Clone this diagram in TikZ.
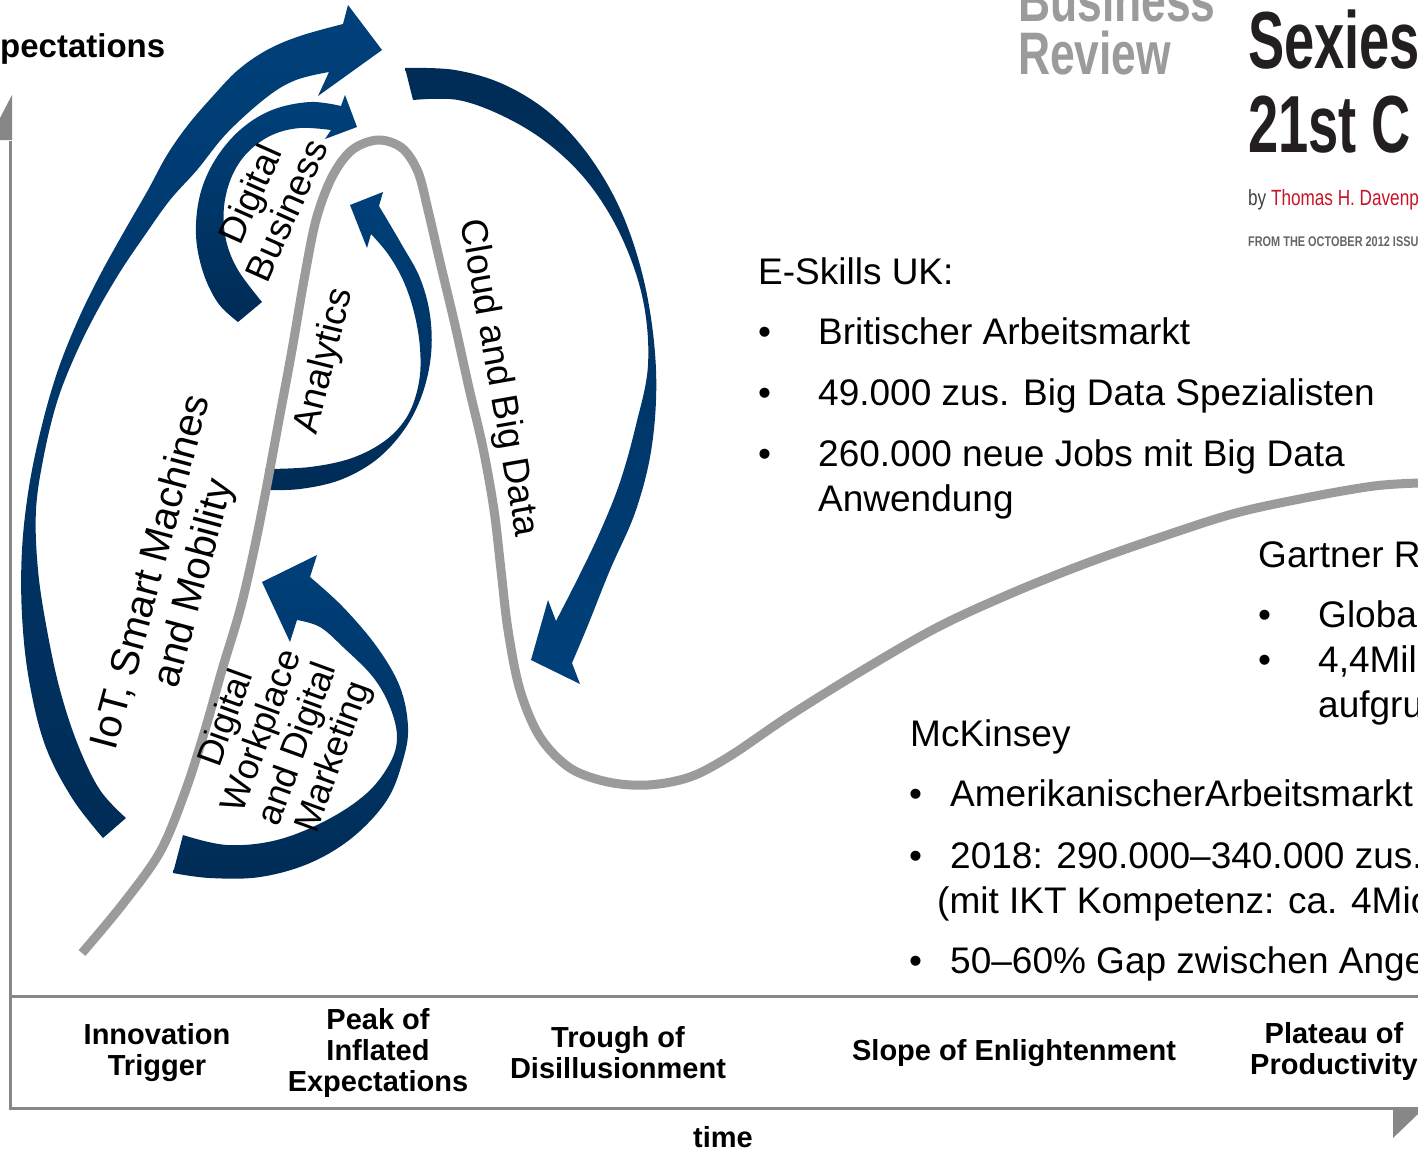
\documentclass[tikz,border=0pt]{standalone}
\usepackage{fontspec}
\setmainfont{Liberation Sans}
\definecolor{hype}{RGB}{155,155,155}
\definecolor{axisgray}{RGB}{135,135,135}
\definecolor{navylight}{RGB}{0,64,122}
\definecolor{navydark}{RGB}{0,44,86}
\definecolor{hbrgray}{RGB}{155,155,155}
\definecolor{hbrred}{RGB}{200,20,40}
\definecolor{hbrblack}{RGB}{35,31,32}
\begin{document}
\begin{tikzpicture}[x=1pt,y=-1pt,
  phase/.style={font=\bfseries\fontsize{29}{31}\selectfont, align=center, inner sep=0},
  body/.style={font=\fontsize{37}{45}\selectfont, inner sep=0, anchor=base west},
  curvelabel/.style={font=\fontsize{37}{40}\selectfont, align=center, inner sep=0},
  axisline/.style={draw=axisgray, line width=3pt},
  upshade/.style={top color=navylight, bottom color=navydark},
  downshade/.style={top color=navydark, bottom color=navylight},
  hypeline/.style={draw=hype, line width=9pt, line join=round}
]
\useasboundingbox (0,0) rectangle (1418,1152);
\fill[white] (0,0) rectangle (1418,1152);

% ---------- axes ----------
\draw[axisline] (10,141) -- (10,1108) -- (1395,1108);
\draw[axisline] (10,996) -- (1418,996);
\fill[axisgray] (0,118) -- (12,95) -- (12,140) -- (0,140) -- cycle;
\fill[axisgray] (1393,1107) -- (1418,1107) -- (1418,1114) -- (1393,1138) -- cycle;

% ---------- blue arrows ----------
% IoT, Smart Machines and Mobility
\shade[upshade]
  plot[smooth, tension=0.6] coordinates {(103,838) (72,798) (45,745) (29,680) (22,615) (22,550) (29,487) (42,425) (58,370) (78,320) (100,275) (125,230) (148,190) (167,155) (188,125) (213,96) (238,70) (267,50) (300,36) (343,24)}
  -- (348,5) -- (382,50) -- (318,96) --
  plot[smooth, tension=0.6] coordinates {(329,72) (296,80) (267,97) (227,133) (197,170) (170,200) (145,235) (120,272) (95,315) (74,358) (57,402) (44,455) (36,510) (38,570) (47,630) (60,690) (78,745) (100,790) (126,818)}
  -- cycle;
% Digital Business
\shade[upshade]
  plot[smooth, tension=0.6] coordinates {(238,322) (218,303) (203,272) (196,235) (200,195) (215,160) (240,130) (272,110) (310,102) (341,106)}
  -- (345,95) -- (357,127) -- (325,139) --
  plot[smooth, tension=0.6] coordinates {(331,130) (300,128) (272,135) (248,152) (232,176) (224,207) (226,240) (238,270) (262,302)}
  -- cycle;
% Analytics
\shade[upshade]
  plot[smooth, tension=0.6] coordinates {(265,490) (300,489) (340,480) (376,460) (404,430) (422,395) (431,355) (430,315) (420,278) (402,245) (379,206)}
  -- (383,192) -- (350,205) -- (367,248) --
  plot[smooth, tension=0.6] coordinates {(371,234) (388,254) (403,280) (414,312) (420,348) (419,382) (408,415) (386,440) (352,458) (310,467) (265,469)}
  -- cycle;
% Cloud and Big Data
\shade[downshade]
  plot[smooth, tension=0.6] coordinates {(405,68) (455,70) (505,85) (552,115) (592,160) (624,218) (646,290) (656,370) (652,445) (636,510) (610,570) (588,625) (572,663)}
  -- (580,684) -- (531,660) -- (548,600) --
  plot[smooth, tension=0.6] coordinates {(556,621) (578,578) (600,532) (620,482) (636,425) (648,365) (643,300) (622,238) (590,185) (550,145) (505,117) (458,100) (413,100)}
  -- cycle;
% Digital Workplace and Digital Marketing
\shade[upshade]
  plot[smooth, tension=0.6] coordinates {(173,873) (210,878) (260,877) (310,863) (353,837) (387,800) (403,760) (408,727) (400,687) (377,647) (343,607) (310,577)}
  -- (317,555) -- (262,582) -- (290,642) --
  plot[smooth, tension=0.6] coordinates {(297,620) (320,627) (343,647) (373,677) (390,707) (397,737) (390,763) (367,793) (327,820) (277,840) (227,845) (183,835)}
  -- cycle;

% ---------- hype curve ----------
\draw[hypeline] plot[smooth, tension=0.55] coordinates {(82,953) (122,905) (160,852) (185,792) (205,730) (222,670) (240,610) (254,550) (266,490) (279,420) (292,350) (304,280) (316,220) (332,177) (352,150) (378,140) (402,148) (418,172) (428,210) (440,262) (455,325) (469,388) (483,448) (494,510) (501,570) (508,630) (520,690) (540,737) (570,768) (608,782) (648,785) (690,777) (730,756) (789,716) (863,670) (938,627) (1012,593) (1087,563) (1161,537) (1236,513) (1310,497) (1374,486) (1418,483)};

% ---------- labels on the curve ----------
\node[curvelabel, font=\fontsize{40}{44}\selectfont, rotate=75] (iot) at (174,578) {IoT, Smart Machines\\and Mobility};
\node[curvelabel, rotate=66] (dbus) at (268,202) {Digital\\Business};
\node[curvelabel, rotate=76] (ana) at (325,361) {Analytics};
\node[curvelabel, rotate=-80] (cloud) at (498,378) {Cloud and Big Data};
\node[curvelabel, font=\fontsize{36}{38}\selectfont, rotate=70] (dwp) at (281,738) {Digital\\Workplace\\and Digital\\Marketing};

% ---------- axis labels ----------
\node[font=\bfseries\fontsize{33}{36}\selectfont, inner sep=0, anchor=base west] (ylab) at (0,57) {pectations};
\node[phase] (p1) at (157,1053) {Innovation\\Trigger};
\node[phase] (p2) at (378,1053) {Peak of\\Inflated\\Expectations};
\node[phase] (p3) at (618,1053) {Trough of\\Disillusionment};
\node[phase] (p4) at (1014,1053) {Slope of Enlightenment};
\node[phase, anchor=west] (p5) at (1250,1053) {\begin{tabular}{@{}c@{}}Plateau of\\Productivity\end{tabular}};
\node[font=\bfseries\fontsize{29}{31}\selectfont, inner sep=0, anchor=base] (xlab) at (723,1147) {time};

% ---------- HBR article ----------
\node[font=\bfseries\fontsize{60}{60}\selectfont, text=hbrgray, xscale=0.74, inner sep=0, anchor=base west] (hbr1) at (1018,21) {Business};
\node[font=\bfseries\fontsize{60}{60}\selectfont, text=hbrgray, xscale=0.74, inner sep=0, anchor=base west] (hbr2) at (1018,74) {Review};
\node[font=\bfseries\fontsize{81}{81}\selectfont, text=hbrblack, xscale=0.67, inner sep=0, anchor=base west] (t1) at (1248,68) {Sexies};
\node[font=\bfseries\fontsize{81}{81}\selectfont, text=hbrblack, xscale=0.67, inner sep=0, anchor=base west] (t2) at (1248,152) {21st C};
\node[font=\fontsize{22}{22}\selectfont, xscale=0.78, inner sep=0, anchor=base west] (auth) at (1248,205) {\textcolor{hbrblack!85}{by} \textcolor{hbrred}{Thomas H. Davenp}};
\node[font=\bfseries\fontsize{14}{14}\selectfont, text=black!60, xscale=0.78, inner sep=0, anchor=base west] (issue) at (1248,246) {FROM THE OCTOBER 2012 ISSU};

% ---------- E-Skills UK ----------
\node[body] (es0) at (758,284) {E-Skills UK:};
\node[body] (esb1) at (758,344) {•};
\node[body] (es1) at (818,344) {Britischer Arbeitsmarkt};
\node[body] (esb2) at (758,405) {•};
\node[body] (es2) at (818,405) {49.000 zus. Big Data Spezialisten};
\node[body] (esb3) at (758,466) {•};
\node[body] (es3) at (818,466) {260.000 neue Jobs mit Big Data};
\node[body] (es4) at (818,511) {Anwendung};

% ---------- Gartner ----------
\node[body] (ga0) at (1258,567) {Gartner R};
\node[body] (gab1) at (1258,627) {•};
\node[body] (ga1) at (1318,627) {Globa};
\node[body] (gab2) at (1258,672) {•};
\node[body] (ga2) at (1318,672) {4,4Mil};
\node[body] (ga3) at (1318,717) {aufgru};

% ---------- McKinsey ----------
\node[body] (mk0) at (910,746) {McKinsey};
\node[body] (mkb1) at (909,806) {•};
\node[body] (mk1) at (950,806) {AmerikanischerArbeitsmarkt};
\node[body] (mkb2) at (909,868) {•};
\node[body] (mk2) at (950,868) {2018: 290.000–340.000 zus.};
\node[body] (mk3) at (937,913) {(mit IKT Kompetenz: ca. 4Mio};
\node[body] (mkb3) at (909,973) {•};
\node[body] (mk4) at (950,973) {50–60\% Gap zwischen Ange};
\end{tikzpicture}
\end{document}
